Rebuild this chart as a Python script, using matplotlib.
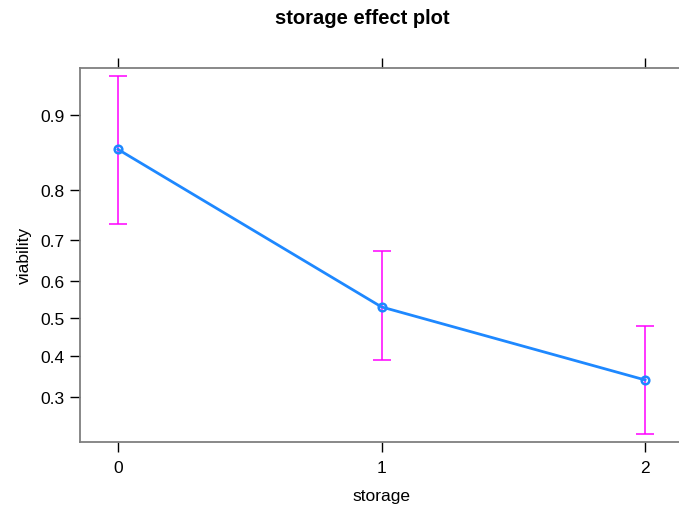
import matplotlib
matplotlib.use("Agg")
import matplotlib.pyplot as plt

plt.rcParams['font.family'] = ['Liberation Sans', 'DejaVu Sans']

# effect estimates (back-transformed from logit scale)
storage = [0, 1, 2]
viability = [0.861, 0.531, 0.340]
lower = [0.735, 0.390, 0.223]
upper = [0.932, 0.675, 0.480]
yticks = [0.3, 0.4, 0.5, 0.6, 0.7, 0.8, 0.9]

fig = plt.figure(figsize=(6.79, 5.06), dpi=100)
ax = fig.add_axes([80/679, 1 - 443.3/506, (683 - 80)/679, (443.3 - 68.5)/506])

ax.set_yscale('logit')
yerr = [[v - l for v, l in zip(viability, lower)],
        [u - v for v, u in zip(viability, upper)]]
ax.errorbar(storage, viability, yerr=yerr, fmt='none', ecolor='#ff00ff',
            elinewidth=1.1, capsize=6.5, capthick=1.1, zorder=2)
ax.plot(storage, viability, color='#1e88ff', lw=2, marker='o', ms=5.5,
        mfc='none', mec='#1e88ff', mew=1.8, zorder=3)

ax.set_xlim(-0.144, 2.144)
ax.set_ylim(0.2082, 0.9374)
ax.set_xticks(storage)
ax.set_xticklabels([str(s) for s in storage])
ax.set_yticks(yticks)
ax.set_yticklabels([str(t) for t in yticks])
ax.yaxis.set_minor_locator(matplotlib.ticker.NullLocator())
ax.yaxis.set_minor_formatter(matplotlib.ticker.NullFormatter())

ax.tick_params(axis='both', direction='out', length=7, width=1, color='black',
               labelsize=12.5, pad=4)
ax.tick_params(axis='x', top=True, pad=6)
for s in ax.spines.values():
    s.set_color('#7f7f7f')
    s.set_linewidth(1.3)

ax.set_xlabel('storage', fontsize=12.5, labelpad=9)
ax.set_ylabel('viability', fontsize=12.5, labelpad=6)
fig.text(362/679, 1 - 19/506, 'storage effect plot', ha='center', va='center',
         fontsize=14.5, fontweight='bold')

fig.savefig('out.png', dpi=100)
